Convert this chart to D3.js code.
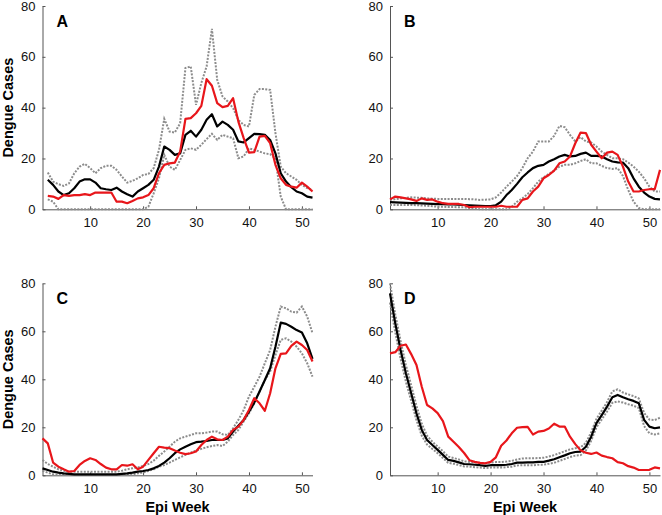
<!DOCTYPE html>
<html><head><meta charset="utf-8">
<script src="https://cdn.jsdelivr.net/npm/d3@7"></script>
<style>body{margin:0;background:#fff}svg{display:block}</style>
</head><body><svg id="c" width="662" height="515"></svg>
<script>
const weeks = [1,2,3,4,5,6,7,8,9,10,11,12,13,14,15,16,17,18,19,20,21,22,23,24,25,26,27,28,29,30,31,32,33,34,35,36,37,38,39,40,41,42,43,44,45,46,47,48,49,50,51,52];
const xTicks = [10,20,30,40,50];
const yTicks = [0,20,40,60,80];

// Panel A (series start at week 2)
const aMean  = [null,11.6,9.6,7,5.6,6.3,8.3,10.9,11.8,11.8,10.5,8.3,7.9,7.6,8.5,7,5.9,5,7,8.3,9.6,11.6,16.8,24.7,23.4,21.4,22,29.3,30.9,28.6,31.3,35.2,37.4,32.6,34.5,33.2,31.3,26.7,26.3,28,29.7,29.6,29.3,27.3,22,14.2,10.9,8.7,7,6.3,5,4.6];
const aObs   = [null,5.3,5,4.1,5.6,5.3,5.6,5.6,6,5.6,6.6,6.6,6.6,6.6,3,3,2.4,3.3,4.3,4.7,5.6,8.3,14.2,17.5,18.1,18.4,22.7,35.6,35.9,37.8,40.7,51.2,48.6,41.8,40.2,40.7,43.7,34.5,28,22.3,22.5,28.6,28.9,26,17.5,12.2,9.6,8.9,8.5,10.5,8.9,7];
const aUpper = [null,14.5,10.9,9.9,9.2,10.2,14.2,16.8,17.9,16.2,14.2,16.2,17.1,17.1,15.5,12.9,10.5,11.2,12.2,13.5,13.9,16.2,23.4,35.6,30.6,30.2,33.9,55.6,56.2,41.1,49.7,56.2,71,51,44.4,42.4,39.8,35.2,33.2,32.6,45,47.3,47.3,47,30,16.8,14.2,12.9,11.6,9.6,8.3,7.6];
const aLower = [null,3.9,3,0,0,0,0,0,0,0,0,0,0,0,0,0,0,0,0,0,1,6.3,12.2,21.4,16.8,15.5,19.4,23.4,24,23.4,25.4,27.6,29.7,27.3,29.3,28.6,28,20.1,20.8,24,23.4,22.7,22,21.7,20,5,0,0,0,0,0,0];

// Panel B
const bMean  = [2.8,2.7,2.6,2.5,2.4,2.4,2.3,2.2,2.1,2,2,1.9,1.9,1.8,1.7,1.6,1.5,1.4,1.3,1.3,1.6,3,5.6,7.6,10,12.6,14.5,16.2,17.1,17.5,18.8,19.7,20.8,21.4,20.8,21,21.8,22.3,21,21,20.8,19.7,18.8,18.5,18.4,16.2,12.2,8.9,6.6,5,4.1,3.9];
const bObs   = [3.9,5,4.7,4.3,3.9,3.3,4.3,3.7,3.9,3,2.4,2.1,2.1,2.1,1.7,0.8,1,1,1,1,1,1.4,1,1,1,3.7,4.3,7,8.9,12.2,13.5,15.2,18.1,18.8,20.8,26,30.2,30,25.4,22.7,20.1,22.3,22.7,21.4,16.8,10.9,7,7,7.6,7.9,7.9,15.5];
const bUpper = [3.7,4,4.3,4.5,4.7,4.6,4.5,4.3,4.2,4.1,4.1,4.1,4.1,4.1,4.1,4,3.9,3.7,3.8,3.9,4.7,6.6,8.9,10.9,13.1,16.2,20.1,22.7,26.7,26.7,26.7,28.9,32.8,32.3,29.3,26.7,28.4,26.7,26.3,24.7,22.7,21.4,20.1,20.1,19.7,18.4,16.8,14.8,12.2,8.9,7,7];
const bLower = [1.7,1.7,1.7,1.7,1.7,1.6,1.5,1.4,1.2,1,1,0.9,0.9,0.8,0.8,0.5,0.3,0,0,0,0,0,0,1,3,4.3,6,8.3,10.9,12.6,13.9,15.2,16.8,17.5,17.5,18.1,19,19.7,18.1,18.1,17.1,16.2,15.9,16.2,13.1,7.6,3,0.5,0,0,0,0];

// Panel C
const cMean  = [2.9,2.2,1.5,1.1,0.8,0.6,0.4,0.4,0.4,0.4,0.4,0.4,0.4,0.4,0.4,0.6,0.8,1.1,1.5,1.8,2.2,2.9,3.9,5.3,7.1,9.2,10.8,11.9,12.9,13.8,14,14.3,14.7,14.7,14.7,15.4,18.2,20.6,23.1,26.5,30.3,34.9,39.7,44.6,53.6,63.6,63.1,61.9,60.5,59.5,55,48.5];
const cObs   = [15.4,13.3,5.3,3.6,2.5,1.5,1.8,4.3,6,7.1,6.4,4.7,3.2,2.5,2.5,4.3,4,4.6,2.5,3.6,6.4,9.2,11.9,11.5,11.3,10.3,9.4,8.8,9.2,9.9,12.6,14.7,16.1,15,14.7,16.1,18.9,20.3,23.1,27.2,32.1,30,26.9,34.2,44.6,50.6,50.8,53.9,55.7,54.3,52.2,47.4];
const cUpper = [6.4,4.7,3.6,2.5,1.9,1.5,1.5,1.5,1.5,1.5,1.5,1.5,1.5,1.5,1.5,1.9,2.5,2.9,3.3,3.9,4.7,6.1,8.1,9.9,11.9,14,15.4,16.1,16.8,17.5,17.5,17.8,18.2,18.2,17.1,16.8,19.6,23.1,27.2,32.8,36.9,41.1,46.7,52.2,61.9,70.3,69.6,68.2,67.8,70.3,66.1,59.2];
const cLower = [1.9,1.1,0.4,0.1,0.1,0.1,0.1,0.1,0.1,0.1,0.1,0.1,0.1,0.1,0.1,0.1,0.1,0.4,0.8,1.2,1.8,2.5,3.6,4.3,5.3,6.4,7.5,8.5,9.4,10.3,11,11.7,12.2,12.6,12.2,14,16.8,18.9,22.4,25.8,30,34.9,39.7,43.2,50.1,56.4,57.1,55.7,53.6,50.8,46.7,41.1];

// Panel D
const dMean  = [75.8,63.3,52.2,42.5,34.2,25.8,18.9,14.7,12.6,10.6,8.5,6.4,6,5.4,4.7,4.6,4.4,4.2,3.9,4.2,4.3,4.2,4.4,4.7,5.3,5.3,5.4,5.4,5.6,5.6,6.1,6.7,7.5,8.3,9.2,9.7,9.9,11.9,16.1,21.7,25.1,28.6,32.5,33.5,32.5,31.7,31,30,23.1,20.3,19.6,20];
const dObs   = [50.8,51.3,54,54.5,50.5,46,36.9,29.3,27.9,25.9,22.6,16.1,14,11.8,9.3,6.3,5.6,5.2,5,5.6,7.5,12.3,14.5,17.5,19.8,20.1,20.2,17,18.2,18.5,19.5,21.5,20.3,20.3,16.1,13,10.4,9.4,8.9,9.5,8.2,7.6,7.1,5.5,5,3.8,3.2,2.2,2.2,2.3,3.3,2.9];
const dUpper = [80,67,56,46,37.5,29,21.5,16.5,14,12,10,7.8,7.2,6.6,5.8,5.6,5.4,5.2,5,5.3,5.5,5.5,5.7,6,6.6,7,7.1,7.1,7.2,7.3,7.8,8.4,9.2,10,10.8,11.3,11.6,13.5,18,23.5,27,30.5,35,35.8,34.5,33.7,33,32,26,23.2,23,24];
const dLower = [72,59.5,48.5,39,31,23,16.5,12.8,11,9.2,7.2,5.2,4.8,4.3,3.7,3.6,3.4,3.2,3,3.2,3.3,3.2,3.4,3.6,4.1,4.2,4.2,4.2,4.4,4.4,4.8,5.2,6,6.8,7.6,8.2,8.4,10.3,14.4,20,23.3,26.6,30.2,30.8,30.3,29.6,29,28,20.5,17.5,17,17.5];

const panels = [
  {label:"A", mean:aMean, obs:aObs, upper:aUpper, lower:aLower, xr:[42.5,312.5], yr:[209.3,6], ylab:true, xlab:false},
  {label:"B", mean:bMean, obs:bObs, upper:bUpper, lower:bLower, xr:[390,660], yr:[209.3,6], ylab:false, xlab:false},
  {label:"C", mean:cMean, obs:cObs, upper:cUpper, lower:cLower, xr:[42.5,312.5], yr:[475.3,283.3], ylab:true, xlab:true},
  {label:"D", mean:dMean, obs:dObs, upper:dUpper, lower:dLower, xr:[390,660], yr:[475.3,283.3], ylab:false, xlab:true}
];

const svg = d3.select("#c");
const FONT = "'Liberation Sans', Arial, Helvetica, sans-serif";

panels.forEach(p => {
  const x = d3.scaleLinear().domain([1,52]).range(p.xr);
  const y = d3.scaleLinear().domain([0,80]).range(p.yr);
  const g = svg.append("g");

  const line = d3.line()
    .defined(d => d.v !== null && d.v !== undefined)
    .x(d => x(d.w)).y(d => y(d.v));
  const toPts = arr => weeks.map((w,i) => ({w, v: arr[i]}));

  const ax = g.append("g").attr("transform", `translate(0,${p.yr[0]})`)
    .call(d3.axisBottom(x).tickValues(xTicks).tickFormat(d3.format("d")).tickSize(-3).tickSizeOuter(0).tickPadding(8));
  const ay = g.append("g").attr("transform", `translate(${p.xr[0]},0)`)
    .call(d3.axisLeft(y).tickValues(yTicks).tickFormat(d3.format("d")).tickSize(-3).tickSizeOuter(0).tickPadding(7));
  [ax, ay].forEach(a => {
    a.select(".domain").attr("stroke", "#555").attr("stroke-width", 1);
    a.selectAll(".tick line").attr("stroke", "#555");
    a.selectAll(".tick text").attr("fill", "#111").style("font-family", FONT).style("font-size", "13px");
  });

  [p.upper, p.lower].forEach(s => {
    g.append("path").datum(toPts(s)).attr("d", line)
      .attr("fill", "none").attr("stroke", "#8c8c8c").attr("stroke-width", 2)
      .attr("stroke-dasharray", "2,1.4");
  });
  g.append("path").datum(toPts(p.mean)).attr("d", line)
    .attr("fill", "none").attr("stroke", "#000").attr("stroke-width", 2.2).attr("stroke-linejoin", "round");
  g.append("path").datum(toPts(p.obs)).attr("d", line)
    .attr("fill", "none").attr("stroke", "#e8161b").attr("stroke-width", 2.2).attr("stroke-linejoin", "round");

  g.append("text").text(p.label)
    .attr("x", p.xr[0] + 14).attr("y", p.yr[1] + 21)
    .style("font-family", FONT).style("font-size", "16px").style("font-weight", "bold").attr("fill", "#000");

  if (p.ylab) {
    g.append("text").text("Dengue Cases")
      .attr("transform", `translate(12.5,${(p.yr[0]+p.yr[1])/2}) rotate(-90)`)
      .attr("text-anchor", "middle")
      .style("font-family", FONT).style("font-size", "14.5px").style("font-weight", "bold").attr("fill", "#000");
  }
  if (p.xlab) {
    g.append("text").text("Epi Week")
      .attr("x", (p.xr[0]+p.xr[1])/2).attr("y", p.yr[0] + 36.5)
      .attr("text-anchor", "middle")
      .style("font-family", FONT).style("font-size", "14.5px").style("font-weight", "bold").attr("fill", "#000");
  }
});
</script></body></html>
